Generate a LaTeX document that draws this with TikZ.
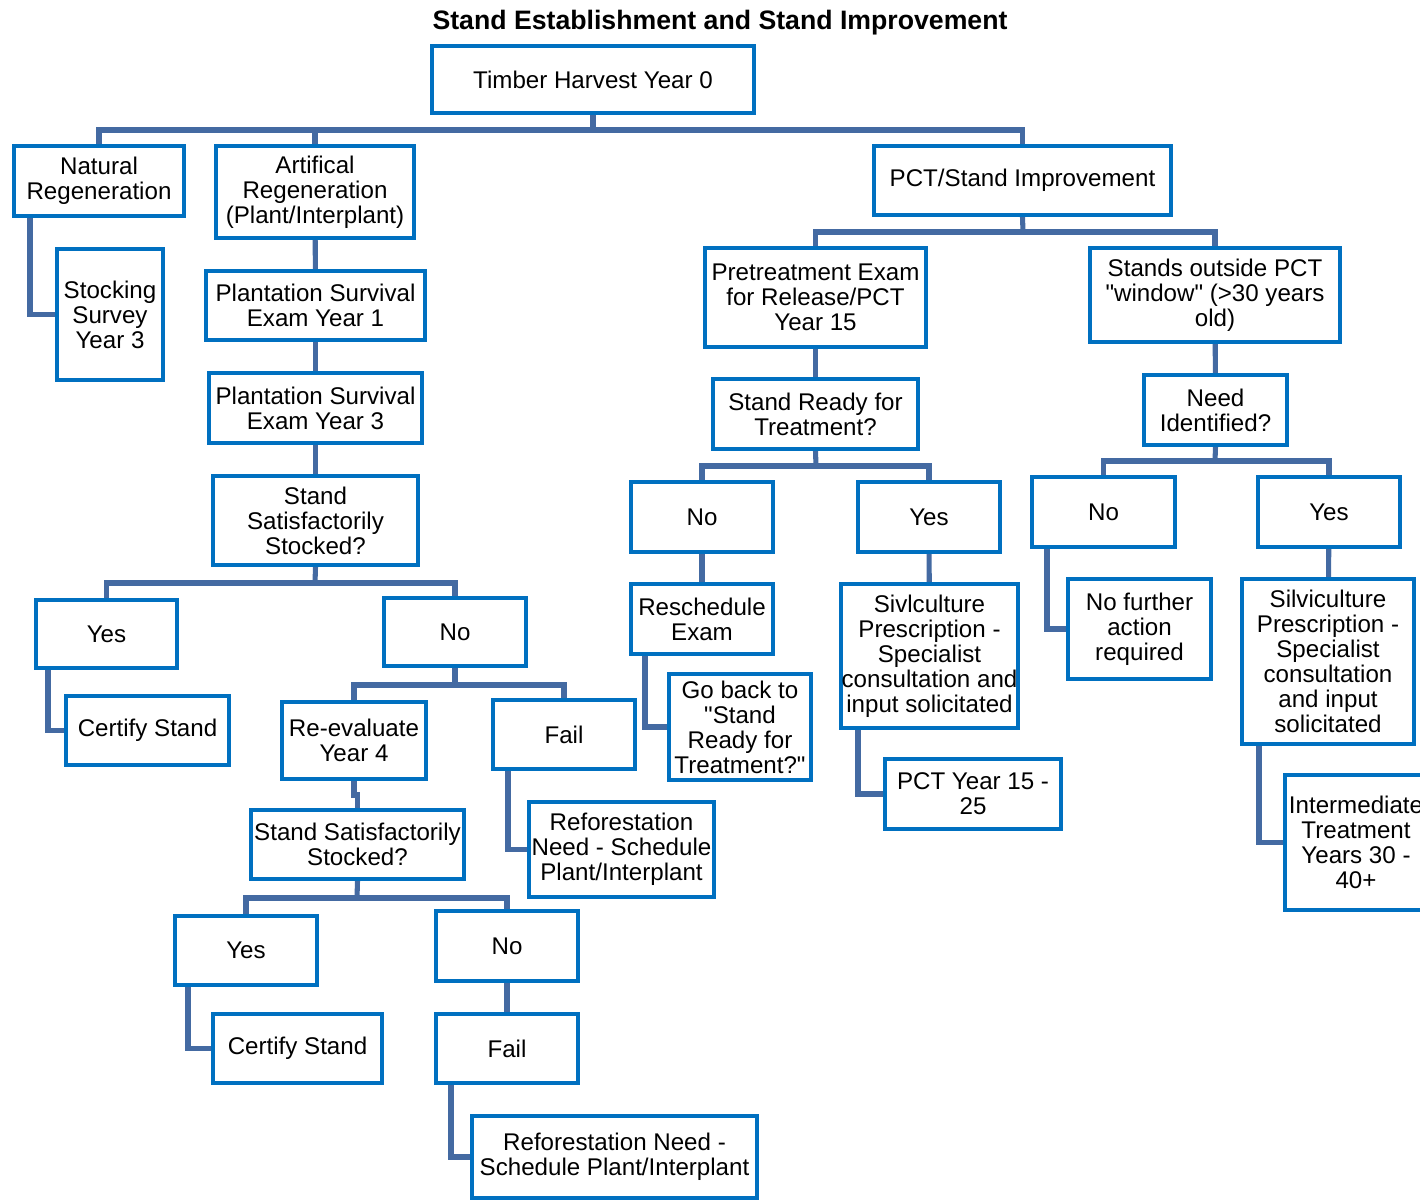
\documentclass[tikz,border=0pt]{standalone}
\usepackage{fontspec}
\setmainfont{Liberation Sans}[Ligatures=TeXOff]
\usetikzlibrary{backgrounds}
\definecolor{boxblue}{RGB}{0,112,192}
\definecolor{linkblue}{RGB}{68,106,162}
\tikzset{
  box/.style={draw=boxblue, line width=3pt, fill=white, align=center,
    inner sep=0pt, font=\fontsize{18.1}{18.8}\selectfont},
  conn/.style={draw=linkblue, line width=3.8pt}
}
% \bx{name}{x1}{y1}{x2}{y2}{text}: box given by its outer corners
\newcommand{\bx}[6]{%
  \pgfmathsetmacro\bxw{(#4-#2-4)*0.75}%
  \pgfmathsetmacro\bxh{(#5-#3-4)*0.75}%
  \node[box, minimum width=\bxw pt, minimum height=\bxh pt] (#1)
    at ({(#2+#4)/2},{(#3+#5)/2}) {#6};}
\begin{document}
\begin{tikzpicture}[x=0.75pt, y=-0.75pt]
\useasboundingbox (0,0) rectangle (1420,1199);
\node[font=\bfseries\fontsize{20}{22}\selectfont] (title) at (720,23)
  {Stand Establishment and Stand Improvement};

% top level
\bx{timber}{430}{44}{756}{115}{Timber Harvest Year 0}
\bx{nat}{12}{144}{186}{218}{Natural\\Regeneration}
\bx{art}{214}{144}{416}{240}{Artifical\\Regeneration\\(Plant/Interplant)}
\bx{pct}{872}{144}{1173}{217}{PCT/Stand Improvement}

% stand establishment branch
\bx{stock}{55}{247}{165}{382}{Stocking\\Survey\\Year 3}
\bx{ps1}{204}{269}{427}{342}{Plantation Survival\\Exam Year 1}
\bx{ps3}{207}{371}{424}{445}{Plantation Survival\\Exam Year 3}
\bx{sss}{211}{474}{420}{567}{Stand\\Satisfactorily\\Stocked?}
\bx{yes1}{34}{598}{179}{670}{Yes}
\bx{no1}{382}{596}{528}{668}{No}
\bx{cert1}{64}{694}{231}{767}{Certify Stand}
\bx{reev}{280}{700}{428}{781}{Re-evaluate\\Year 4}
\bx{fail1}{491}{698}{637}{771}{Fail}
\bx{sss2}{249}{808}{466}{881}{Stand Satisfactorily\\Stocked?}
\bx{refo1}{527}{800}{716}{899}{Reforestation\\Need - Schedule\\Plant/Interplant}
\bx{yes2}{173}{914}{319}{987}{Yes}
\bx{no2}{434}{909}{580}{983}{No}
\bx{cert2}{211}{1012}{384}{1085}{Certify Stand}
\bx{fail2}{434}{1012}{580}{1085}{Fail}
\bx{refo2}{470}{1114}{759}{1200}{Reforestation Need -\\Schedule Plant/Interplant}

% stand improvement branch
\bx{pre}{703}{246}{928}{349}{Pretreatment Exam\\for Release/PCT\\Year 15}
\bx{out}{1088}{246}{1342}{344}{Stands outside PCT\\"window" (>30 years\\old)}
\bx{ready}{711}{377}{920}{451}{Stand Ready for\\Treatment?}
\bx{need}{1142}{373}{1289}{447}{Need\\Identified?}
\bx{no3}{629}{480}{775}{554}{No}
\bx{yes3}{856}{480}{1002}{554}{Yes}
\bx{no4}{1030}{475}{1177}{549}{No}
\bx{yes4}{1256}{475}{1402}{549}{Yes}
\bx{resch}{629}{582}{775}{656}{Reschedule\\Exam}
\bx{silva}{839}{582}{1020}{730}{Sivlculture\\Prescription -\\Specialist\\consultation and\\input solicitated}
\bx{nofur}{1066}{577}{1213}{681}{No further\\action\\required}
\bx{silvb}{1240}{577}{1416}{746}{Silviculture\\Prescription -\\Specialist\\consultation\\and input\\solicitated}
\bx{goback}{667}{672}{813}{782}{Go back to\\"Stand\\Ready for\\Treatment?"}
\bx{pcty}{883}{757}{1063}{831}{PCT Year 15 -\\25}
\bx{inter}{1283}{773}{1429}{912}{Intermediate\\Treatment\\Years 30 -\\40+}

\begin{scope}[on background layer]
  % buses
  \coordinate (b0) at (593,130);
  \draw[conn] (timber.south) -- (b0);
  \draw[conn] (nat.north) |- (b0) -| (pct.north);
  \draw[conn] (art.north) -- (art.north |- b0);
  % establishment chain
  \draw[conn] (nat.south -| 30,0) |- (stock.west);
  \draw[conn] (art) -- (ps1);
  \draw[conn] (ps1) -- (ps3);
  \draw[conn] (ps3) -- (sss);
  \coordinate (b1) at (315,583);
  \draw[conn] (sss.south) -- (b1);
  \draw[conn] (yes1.north) |- (b1) -| (no1.north);
  \draw[conn] (yes1.south -| 48,0) |- (cert1.west);
  \coordinate (b2) at (455,685);
  \draw[conn] (no1.south) -- (b2);
  \draw[conn] (reev.north) |- (b2) -| (fail1.north);
  \draw[conn] (reev.south) -- ++(0,14) -| (sss2.north);
  \draw[conn] (fail1.south -| 508,0) |- (refo1.west);
  \coordinate (b3) at (357,898);
  \draw[conn] (sss2.south) -- (b3);
  \draw[conn] (yes2.north) |- (b3) -| (no2.north);
  \draw[conn] (yes2.south -| 188,0) |- (cert2.west);
  \draw[conn] (no2) -- (fail2);
  \draw[conn] (fail2.south -| 451,0) |- (refo2.west);
  % improvement chain
  \coordinate (b4) at (1023,232);
  \draw[conn] (pct.south) -- (b4);
  \draw[conn] (pre.north) |- (b4) -| (out.north);
  \draw[conn] (pre) -- (ready);
  \draw[conn] (out) -- (need);
  \coordinate (b5) at (816,466);
  \draw[conn] (ready.south) -- (b5);
  \draw[conn] (no3.north) |- (b5) -| (yes3.north);
  \coordinate (b6) at (1215,461);
  \draw[conn] (need.south) -- (b6);
  \draw[conn] (no4.north) |- (b6) -| (yes4.north);
  \draw[conn] (no3) -- (resch);
  \draw[conn] (resch.south -| 645,0) |- (goback.west);
  \draw[conn] (yes3) -- (silva);
  \draw[conn] (silva.south -| 858,0) |- (pcty.west);
  \draw[conn] (no4.south -| 1047,0) |- (nofur.west);
  \draw[conn] (yes4) -- (silvb);
  \draw[conn] (silvb.south -| 1259,0) |- (inter.west);
\end{scope}
\end{tikzpicture}
\end{document}
